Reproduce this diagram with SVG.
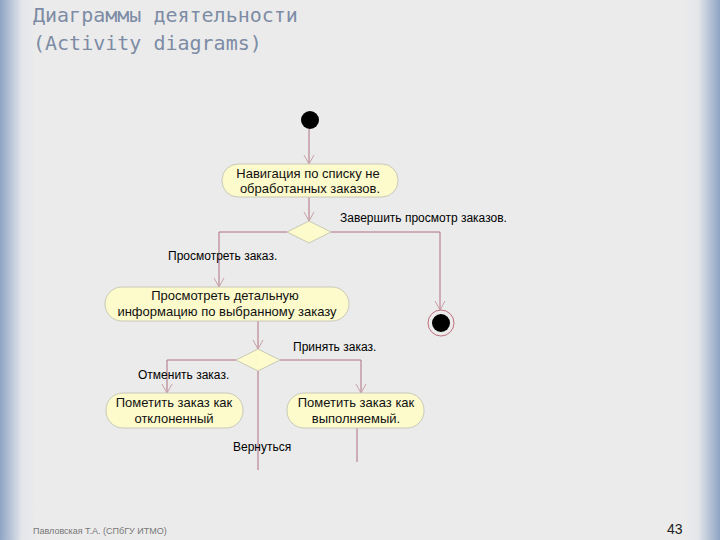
<svg xmlns="http://www.w3.org/2000/svg" width="720" height="540" viewBox="0 0 720 540">
<defs>
<linearGradient id="bg" x1="0" x2="1" y1="0" y2="0">
<stop offset="0" stop-color="#8ea4c4"/><stop offset="0.03" stop-color="#e4e6ea"/><stop offset="0.05" stop-color="#ebebeb"/>
<stop offset="0.95" stop-color="#ebebeb"/><stop offset="0.97" stop-color="#e4e6ea"/><stop offset="1" stop-color="#8ea4c4"/>
</linearGradient>
<marker id="a" markerWidth="10" markerHeight="12" refX="9" refY="6" orient="auto" markerUnits="userSpaceOnUse">
<path d="M0,1 L9,6 L0,11" fill="none" stroke="#c8a0a8" stroke-width="1"/>
</marker>
<style>
.e{fill:none;stroke:#b07080;stroke-width:1}
.n{fill:#fdfbcc;stroke:#c8c8b8;stroke-width:1}
.t{font-family:"Liberation Sans",Arial,sans-serif;font-size:13px;fill:#111;text-anchor:middle}
.l{font-family:"Liberation Sans",Arial,sans-serif;font-size:12px;fill:#000}
.h{font-family:"DejaVu Sans Mono",monospace;font-size:20px;fill:#7d8ba5}
</style>
</defs>
<rect width="720" height="540" fill="url(#bg)"/>
<text class="h" x="33" y="22">Диаграммы деятельности</text>
<text class="h" x="33" y="50">(Activity diagrams)</text>
<g id="connectors">
<path class="e" d="M309,129 V164" marker-end="url(#a)"/>
<path class="e" d="M309,197 V221" marker-end="url(#a)"/>
<path class="e" d="M287,232 H219 V287" marker-end="url(#a)"/>
<path class="e" d="M331,232 H440 V310" marker-end="url(#a)"/>
<path class="e" d="M258,321 V349" marker-end="url(#a)"/>
<path class="e" d="M236,360 H167 V393" marker-end="url(#a)"/>
<path class="e" d="M280,360 H361 V393" marker-end="url(#a)"/>
<path class="e" d="M258,371 V470"/>
<path class="e" d="M357,428 V462"/>
<text class="l" x="340" y="222">Завершить просмотр заказов.</text>
<text class="l" x="168" y="260">Просмотреть заказ.</text>
<text class="l" x="293" y="351">Принять заказ.</text>
<text class="l" x="138" y="379">Отменить заказ.</text>
<text class="l" x="233" y="451">Вернуться</text>
</g>
<g id="start"><circle cx="310" cy="120" r="9" fill="#000"/></g>
<g id="n1"><rect class="n" x="222" y="164" width="176" height="33" rx="16"/>
<text class="t" x="308" y="178">Навигация по списку не</text><text class="t" x="310" y="193">обработанных заказов.</text></g>
<g id="d1"><polygon class="n" points="309,221 331,232 309,243 287,232"/></g>
<g id="end"><circle cx="441" cy="323" r="13" fill="none" stroke="#c07080"/><circle cx="441" cy="323" r="9" fill="#000"/></g>
<g id="n2"><rect class="n" x="105" y="287" width="244" height="34" rx="17"/>
<text class="t" x="225" y="300">Просмотреть детальную</text><text class="t" x="227" y="316">информацию по выбранному заказу</text></g>
<g id="d2"><polygon class="n" points="258,349 280,360 258,371 236,360"/></g>
<g id="n3"><rect class="n" x="106" y="393" width="137" height="35" rx="17"/>
<text class="t" x="174" y="407">Пометить заказ как</text><text class="t" x="174" y="423">отклоненный</text></g>
<g id="n4"><rect class="n" x="287" y="393" width="137" height="35" rx="17"/>
<text class="t" x="356" y="407">Пометить заказ как</text><text class="t" x="356" y="423">выполняемый.</text></g>
<text x="33" y="534" font-family="Liberation Sans,sans-serif" font-size="9" fill="#777">Павловская Т.А. (СПбГУ ИТМО)</text>
<text x="667" y="534" font-family="Liberation Sans,sans-serif" font-size="14" fill="#222">43</text>
</svg>
